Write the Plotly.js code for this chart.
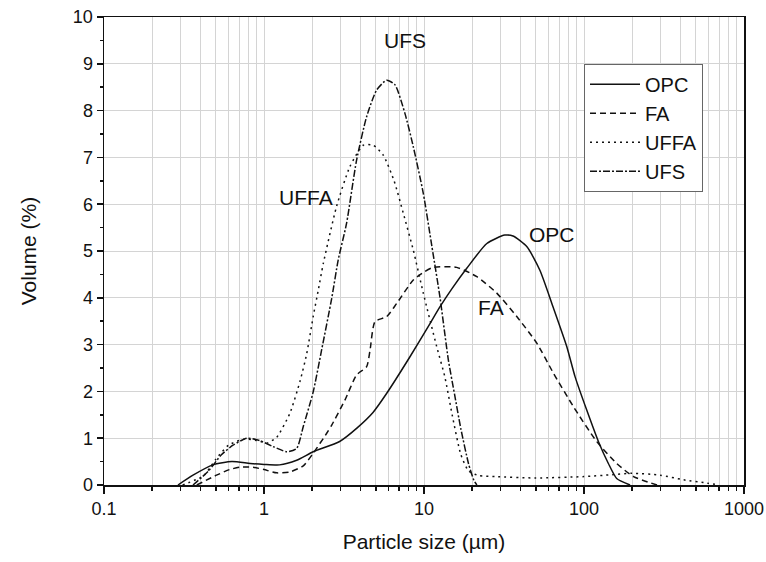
<!DOCTYPE html>
<html>
<head>
<meta charset="utf-8">
<script src="https://cdn.plot.ly/plotly-3.0.1.min.js"></script>
<style>html,body{margin:0;padding:0;background:#fff;}#chart{width:766px;height:562px;}</style>
</head>
<body>
<div id="chart"></div>
<script>
// Particle size distribution data
const seriesNames = ["OPC", "FA", "UFFA", "UFS"];

const opcX = [0.29,0.36,0.48,0.63,0.82,1.0,1.25,1.6,2.03,2.97,3.79,4.8,5.85,8.17,10.9,12.6,15,18.5,24.7,32,36,44,53,64,78,88,104,123,142,160,194];
const opcY = [0,0.21,0.43,0.50,0.46,0.44,0.43,0.53,0.71,0.93,1.21,1.55,1.96,2.74,3.45,3.81,4.2,4.63,5.16,5.34,5.32,5.09,4.59,3.81,2.96,2.31,1.60,0.93,0.46,0.14,0];

const faX = [0.38,0.505,0.61,0.71,0.855,1.0,1.2,1.45,1.76,2.03,2.46,2.65,3.21,3.79,4.38,4.6,4.94,5.85,6.75,8.57,10.1,11.4,16,21.4,28.5,38,50.7,64.4,86,120,160,204,286];
const faY = [0,0.21,0.33,0.38,0.38,0.33,0.26,0.28,0.41,0.68,1.10,1.28,1.82,2.35,2.53,2.88,3.49,3.60,3.88,4.38,4.56,4.65,4.65,4.45,4.10,3.60,3.03,2.39,1.67,0.93,0.46,0.18,0];

const uffaX = [0.31,0.42,0.5,0.6,0.75,0.9,1.05,1.2,1.45,1.68,1.85,2.03,2.18,2.35,2.84,3.44,4.17,4.82,5.56,6.5,7.42,8.57,9.9,12,13.5,15,17,19,22,28,50,100,150,200,300,420,590,700];
const uffaY = [0,0.2,0.55,0.85,0.98,0.95,0.9,1.02,1.53,2.22,2.81,3.6,4.15,4.74,5.95,6.8,7.26,7.26,7.05,6.5,5.81,5.02,4.1,2.96,2.31,1.5,0.65,0.3,0.2,0.18,0.15,0.18,0.22,0.25,0.21,0.11,0.04,0];

const ufsX = [0.36,0.45,0.54,0.64,0.78,0.94,1.14,1.39,1.6,1.76,2.03,2.29,2.65,2.91,3.28,3.79,4.38,5.06,5.85,6.59,7.6,8.57,9.9,11.2,12.6,14.2,15.5,17,19,20.5,21.4];
const ufsY = [0,0.3,0.64,0.85,1.0,0.95,0.82,0.71,0.78,1.25,1.99,2.88,3.99,4.81,5.59,6.94,7.87,8.44,8.65,8.55,7.94,7.23,6.23,5.1,4.0,2.67,1.95,1.2,0.45,0.1,0];

const dashes = ["solid", "6px,4px", "2px,4px", "7px,2px,2px,2px"];

// Curve labels
const labelText = ["UFS", "UFFA", "OPC", "FA"];
const labelX = [7.6, 1.83, 63, 26.3];
const labelY = [9.5, 6.15, 5.36, 3.8];

const xTickVals = [0.1, 1, 10, 100, 1000];
const xTickText = ["0.1", "1", "10", "100", "1000"];

const xs = [opcX, faX, uffaX, ufsX];
const ys = [opcY, faY, uffaY, ufsY];

const traces = seriesNames.map((n, i) => ({
  x: xs[i], y: ys[i], name: n, type: "scatter", mode: "lines",
  line: {color: "#111", width: 1.5, dash: dashes[i], shape: "spline", smoothing: 0.6}
}));

const font = "Liberation Sans, Arial, sans-serif";

const layout = {
  width: 766, height: 562,
  margin: {l: 104, r: 22, t: 17, b: 77},
  paper_bgcolor: "#fff", plot_bgcolor: "#fff",
  font: {family: font, color: "#111"},
  showlegend: true,
  legend: {
    x: 0.75, y: 0.9, xanchor: "left", yanchor: "top",
    bordercolor: "#666", borderwidth: 1, bgcolor: "#fff",
    font: {size: 20, family: font, color: "#111"},
    itemwidth: 50, tracegroupgap: 0
  },
  xaxis: {
    type: "log", range: [-1, 3],
    tickvals: xTickVals, ticktext: xTickText,
    ticks: "outside", ticklen: 7, tickwidth: 1.5, tickcolor: "#111",
    showline: true, linecolor: "#111", linewidth: 1.5, mirror: true,
    showgrid: true, gridcolor: "#d4d4d4", gridwidth: 1,
    minor: {dtick: "D1", ticks: "outside", ticklen: 4, tickcolor: "#111", showgrid: true, gridcolor: "#d4d4d4", gridwidth: 1},
    tickfont: {size: 18, family: font, color: "#111"},
    title: {text: "Particle size (µm)", font: {size: 21, family: font, color: "#111"}, standoff: 16},
    zeroline: false
  },
  yaxis: {
    range: [0, 10], dtick: 1, tick0: 0,
    ticks: "outside", ticklen: 6, tickwidth: 1.5, tickcolor: "#111",
    showline: true, linecolor: "#111", linewidth: 1.5, mirror: true,
    showgrid: true, gridcolor: "#d4d4d4", gridwidth: 1,
    minor: {dtick: 0.5, ticks: "outside", ticklen: 3, tickcolor: "#111", showgrid: false},
    tickfont: {size: 18, family: font, color: "#111"},
    title: {text: "Volume (%)", font: {size: 21, family: font, color: "#111"}, standoff: 30},
    zeroline: false
  },
  annotations: labelText.map((t, i) => ({
    x: Math.log10(labelX[i]), y: labelY[i], xref: "x", yref: "y",
    text: t, showarrow: false, font: {size: 21, family: font, color: "#111"},
    xanchor: "center", yanchor: "middle"
  }))
};

Plotly.newPlot("chart", traces, layout, {displayModeBar: false, staticPlot: true});
</script>
</body>
</html>
